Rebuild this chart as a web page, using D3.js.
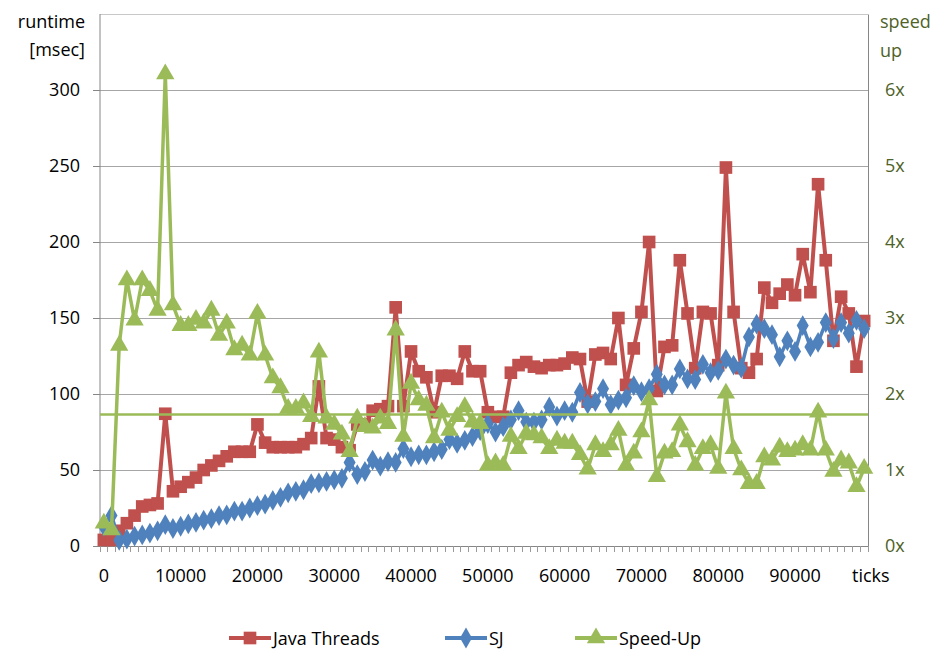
<!DOCTYPE html>
<html><head><meta charset="utf-8">
<script src="https://cdn.jsdelivr.net/npm/d3@7/dist/d3.min.js"></script>
<style>body{margin:0;background:#fff;}svg{display:block;}text{font-family:"Open Sans",sans-serif;}</style>
</head><body>
<svg id="c" width="944" height="651"></svg>
<script>
const ticks = [0,1000,2000,3000,4000,5000,6000,7000,8000,9000,10000,11000,12000,13000,14000,15000,16000,17000,18000,19000,20000,21000,22000,23000,24000,25000,26000,27000,28000,29000,30000,31000,32000,33000,34000,35000,36000,37000,38000,39000,40000,41000,42000,43000,44000,45000,46000,47000,48000,49000,50000,51000,52000,53000,54000,55000,56000,57000,58000,59000,60000,61000,62000,63000,64000,65000,66000,67000,68000,69000,70000,71000,72000,73000,74000,75000,76000,77000,78000,79000,80000,81000,82000,83000,84000,85000,86000,87000,88000,89000,90000,91000,92000,93000,94000,95000,96000,97000,98000,99000];
const javaThreads = [4,4,10,15,20,26,27,28,87,36,39,42,45,50,53,56,59,62,62,62,80,68,65,65,65,65,67,71,105,71,70,65,63,80,80,89,90,92,157,92,128,115,111,88,112,112,110,128,115,115,88,85,85,114,119,121,118,117,119,119,120,124,123,95,126,127,123,150,106,130,154,200,102,131,132,188,153,117,154,153,119,249,154,117,114,123,170,160,166,172,165,192,167,238,188,135,164,153,118,148];
const sj = [13,20,3.8,4.5,6.5,7.3,8.5,10,14,11.5,13,14.5,15.5,17,18,20,20.5,23,23,25,26.5,27.5,30,32,35,36,37,41,41.5,42.5,43.5,44.5,55,47,49,56.5,52.5,55.5,55,64,58.7,60,60,62,63.5,70,67.5,69.5,72,76,80.5,75,78.5,83,89,81.5,81.5,83,91.5,85.5,89,88,101,93.5,95,103.5,93,96,97.5,105.5,101.5,103.5,113,106,106,116.5,110,109.5,119.5,114,115.5,123,119,117,137.5,146,143,139,124.5,135,128,145,131,134,147,136.5,147,140,148.5,143];
const speedUp = [0.30,0.21,2.64,3.50,2.97,3.50,3.36,3.10,6.21,3.17,2.90,2.90,2.98,2.93,3.10,2.77,2.93,2.58,2.64,2.51,3.06,2.51,2.21,2.08,1.81,1.81,1.88,1.70,2.55,1.68,1.60,1.47,1.24,1.68,1.57,1.55,1.68,1.61,2.84,1.44,2.14,1.92,1.85,1.42,1.76,1.52,1.70,1.83,1.63,1.61,1.06,1.09,1.06,1.44,1.28,1.48,1.46,1.42,1.28,1.39,1.35,1.35,1.20,1.01,1.33,1.24,1.33,1.52,1.06,1.22,1.50,1.92,0.91,1.22,1.24,1.59,1.37,1.06,1.28,1.33,1.02,2.01,1.28,1.00,0.82,0.82,1.17,1.13,1.30,1.24,1.26,1.33,1.26,1.76,1.26,0.98,1.13,1.09,0.78,1.02];
const avgSpeedUp = 1.73;
const xTickLabels = ["0","10000","20000","30000","40000","50000","60000","70000","80000","90000"];
const yTicks = [0,50,100,150,200,250,300];
const y2Ticks = [0,1,2,3,4,5,6];
const y2Labels = ["0x","1x","2x","3x","4x","5x","6x"];
const seriesNames = ["Java Threads","SJ","Speed-Up"];

const L=100,R=868,T=14,B=546;
const svg = d3.select("#c");
const x = d3.scaleBand().domain(ticks).range([L,R]).padding(0);
const bw = x.bandwidth();
const cx = d => x(d)+bw/2;
const y = d3.scaleLinear().domain([0,350]).range([B,T]);
const y2 = d3.scaleLinear().domain([0,7]).range([B,T]);

const RED="#C0504D", BLUE="#4F81BD", GREEN="#9BBB59", OLIVE="#4F6228";

// gridlines
svg.append("g").selectAll("line").data(yTicks.slice(1).concat([350])).join("line")
  .attr("x1",L).attr("x2",R).attr("y1",d=>y(d)).attr("y2",d=>y(d))
  .attr("stroke",d=>d===350?"#c8c8c8":"#a6a6a6").attr("stroke-width",1).attr("shape-rendering","crispEdges");

// left axis
const ya = svg.append("g").attr("transform",`translate(${L},0)`)
  .call(d3.axisLeft(y).tickValues(yTicks).tickSize(7).tickPadding(13));
ya.select(".domain").attr("stroke","#868686").attr("d",`M-0,${B}V${T}`);
ya.selectAll(".tick line").attr("stroke","#868686");
ya.selectAll("text").attr("font-size",18).attr("fill","#000").attr("font-family","Open Sans");

// right axis
const y2a = svg.append("g").attr("transform",`translate(${R},0)`)
  .call(d3.axisRight(y2).tickValues(y2Ticks).tickFormat((d,i)=>y2Labels[i]).tickSize(0).tickPadding(17));
y2a.select(".domain").attr("stroke","#868686");
y2a.selectAll("text").attr("font-size",18).attr("fill",OLIVE).attr("font-family","Open Sans");

// bottom axis
svg.append("line").attr("x1",L).attr("x2",R).attr("y1",B+0.5).attr("y2",B+0.5).attr("stroke","#868686");
svg.append("g").selectAll("line").data(ticks.concat(["end"])).join("line")
  .attr("x1",d=>d==="end"?R:x(d)).attr("x2",d=>d==="end"?R:x(d))
  .attr("y1",B).attr("y2",B+6).attr("stroke","#9a9a9a").attr("shape-rendering","crispEdges");
const labeled = ticks.filter((d,i)=>i%10===0);
const xa = svg.append("g").attr("transform",`translate(0,${B})`)
  .call(d3.axisBottom(x).tickValues(labeled).tickFormat((d,i)=>xTickLabels[i]).tickSize(0).tickPadding(23));
xa.select(".domain").remove();
xa.selectAll("text").attr("font-size",18).attr("fill","#000").attr("font-family","Open Sans");

// titles
svg.append("text").attr("x",85).attr("y",28).attr("text-anchor","end").attr("font-size",18).text("runtime");
svg.append("text").attr("x",85).attr("y",56).attr("text-anchor","end").attr("font-size",18).text("[msec]");
svg.append("text").attr("x",880).attr("y",28).attr("font-size",18).attr("fill",OLIVE).text("speed");
svg.append("text").attr("x",880).attr("y",57).attr("font-size",18).attr("fill",OLIVE).text("up");
svg.append("text").attr("x",852).attr("y",582).attr("font-size",18).text("ticks");

// markers
const sq = d3.symbol().type(d3.symbolSquare).size(160);
const dia = d3.symbol().type(d3.symbolDiamond).size(125);
const tri = d3.symbol().type(d3.symbolTriangle).size(145);

function series(vals, sc, color, sym, lw){
  const g = svg.append("g");
  g.append("path").datum(vals).attr("fill","none").attr("stroke",color).attr("stroke-width",lw)
    .attr("stroke-linejoin","round")
    .attr("d", d3.line().x((d,i)=>cx(ticks[i])).y(d=>sc(d)));
  g.selectAll("path.m").data(vals).join("path").attr("class","m")
    .attr("transform",(d,i)=>`translate(${cx(ticks[i])},${sc(d)})`).attr("d",sym).attr("fill",color);
}
series(javaThreads, y, RED, sq, 4);
series(sj, y, BLUE, dia, 3.5);
series(speedUp, y2, GREEN, tri, 3.5);

// average speed-up line
svg.append("line").attr("x1",L).attr("x2",R).attr("y1",y2(avgSpeedUp)).attr("y2",y2(avgSpeedUp))
  .attr("stroke",GREEN).attr("stroke-width",2.5);

// legend
const leg = [{x:229,c:RED,s:sq},{x:445,c:BLUE,s:dia},{x:575,c:GREEN,s:tri}];
leg.forEach((l,i)=>{
  const g = svg.append("g");
  g.append("line").attr("x1",l.x).attr("x2",l.x+42).attr("y1",638).attr("y2",638).attr("stroke",l.c).attr("stroke-width",4);
  g.append("path").attr("transform",`translate(${l.x+21},638)`).attr("d",l.s).attr("fill",l.c);
  g.append("text").attr("x",l.x+44).attr("y",645).attr("font-size",18).text(seriesNames[i]);
});
</script>
</body></html>
